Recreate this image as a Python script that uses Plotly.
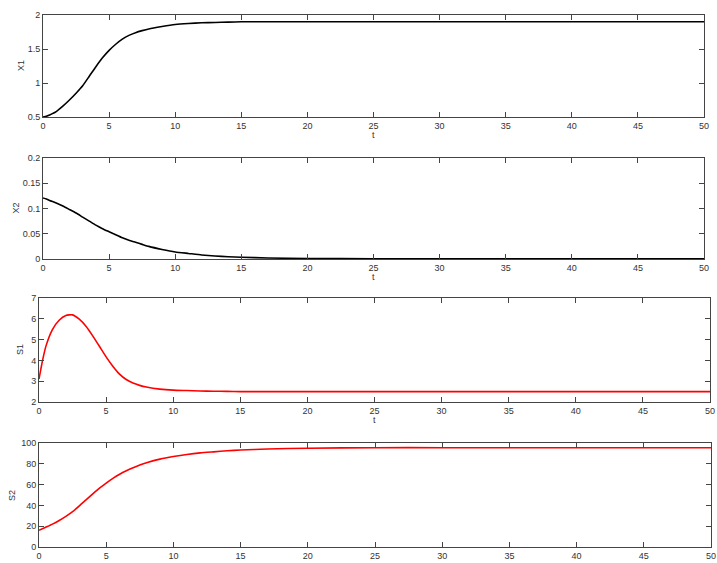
import plotly.graph_objects as go

W, H = 717, 563

# time samples
t = [0, 0.25, 0.5, 1, 1.5, 2, 2.5, 3, 3.5, 4, 4.5, 5, 5.5, 6, 6.5, 7, 7.5, 8, 9, 10, 11, 12, 13, 14, 15, 17, 20, 25, 30, 35, 40, 45, 50]

x1 = [0.50, 0.51, 0.53, 0.58, 0.66, 0.75, 0.85, 0.96, 1.10, 1.24, 1.37, 1.48, 1.57, 1.645, 1.70, 1.74, 1.77, 1.795, 1.83, 1.86, 1.875, 1.885, 1.89, 1.895, 1.90, 1.90, 1.90, 1.90, 1.90, 1.90, 1.90, 1.90, 1.90]
x2 = [0.121, 0.119, 0.116, 0.111, 0.105, 0.098, 0.091, 0.083, 0.075, 0.067, 0.060, 0.054, 0.048, 0.042, 0.037, 0.033, 0.029, 0.025, 0.019, 0.014, 0.011, 0.008, 0.006, 0.0045, 0.0035, 0.002, 0.001, 0.0005, 0.0003, 0.0002, 0.0002, 0.0002, 0.0002]
s1 = [3.1, 3.95, 4.65, 5.48, 5.93, 6.16, 6.19, 5.98, 5.64, 5.18, 4.68, 4.17, 3.72, 3.34, 3.08, 2.91, 2.80, 2.72, 2.62, 2.57, 2.55, 2.53, 2.52, 2.51, 2.50, 2.50, 2.50, 2.50, 2.50, 2.50, 2.50, 2.50, 2.50]
s2 = [16, 17.5, 19, 22, 25.5, 29.5, 34, 39.5, 45.3, 51, 56.5, 61.5, 66, 70, 73.3, 76.2, 78.8, 81, 84.5, 87, 89, 90.5, 91.5, 92.5, 93.2, 94.2, 95, 95.5, 95.5, 95.5, 95.5, 95.5, 95.5]

x_ticks = [0, 5, 10, 15, 20, 25, 30, 35, 40, 45, 50]
y_ticks = [
    [0.5, 1, 1.5, 2],
    [0, 0.05, 0.1, 0.15, 0.2],
    [2, 3, 4, 5, 6, 7],
    [0, 20, 40, 60, 80, 100],
]
y_labels = [
    ["0.5", "1", "1.5", "2"],
    ["0", "0.05", "0.1", "0.15", "0.2"],
    ["2", "3", "4", "5", "6", "7"],
    ["0", "20", "40", "60", "80", "100"],
]
y_titles = ["X1", "X2", "S1", "S2"]
x_title = "t"
series = [x1, x2, s1, s2]
colors = ["#000000", "#000000", "#ff0000", "#ff0000"]

# plot-area boxes in pixels: (left, right, top, bottom)
boxes = [
    (43, 704, 15, 117),
    (43, 704, 158, 259),
    (39, 710, 298, 402),
    (39, 711, 443, 547),
]
# title positions in pixels
ytitle_x = [21, 16, 20, 12]
xtitle_y = [134.5, 277.5, 420, 566]

fig = go.Figure()
font = dict(family="Liberation Sans, Arial, sans-serif", size=9, color="#333333")

for i in range(4):
    l, r, tp, bt = boxes[i]
    xa = "x" if i == 0 else f"x{i+1}"
    ya = "y" if i == 0 else f"y{i+1}"
    fig.add_trace(go.Scatter(
        x=t, y=series[i], mode="lines", xaxis=xa, yaxis=ya,
        line=dict(color=colors[i], width=1.6, shape="spline", smoothing=0.5),
        showlegend=False, hoverinfo="skip"))
    ax_common = dict(
        showgrid=False, zeroline=False, showline=True, linecolor="#444444", linewidth=1,
        mirror="ticks", ticks="inside", ticklen=5, tickcolor="#444444", tickwidth=1,
        tickfont=font, automargin=False,
    )
    xkey = "xaxis" if i == 0 else f"xaxis{i+1}"
    ykey = "yaxis" if i == 0 else f"yaxis{i+1}"
    fig.update_layout(**{
        xkey: dict(ax_common, domain=[l / W, r / W], anchor=ya, range=[0, 50],
                   tickvals=x_ticks, ticktext=[str(v) for v in x_ticks]),
        ykey: dict(ax_common, domain=[1 - bt / H, 1 - tp / H], anchor=xa,
                   range=[y_ticks[i][0], y_ticks[i][-1]],
                   tickvals=y_ticks[i], ticktext=y_labels[i]),
    })
    fig.add_annotation(text=x_title, xref="paper", yref="paper",
                       x=(l + r) / 2 / W, y=1 - xtitle_y[i] / H,
                       xanchor="center", yanchor="middle", showarrow=False, font=font)
    fig.add_annotation(text=y_titles[i], xref="paper", yref="paper",
                       x=ytitle_x[i] / W, y=1 - (tp + bt) / 2 / H, textangle=-90,
                       xanchor="center", yanchor="middle", showarrow=False, font=font)

fig.update_layout(
    width=W, height=H,
    margin=dict(l=0, r=0, t=0, b=0),
    paper_bgcolor="white", plot_bgcolor="white",
)

fig.write_html("out.html")
